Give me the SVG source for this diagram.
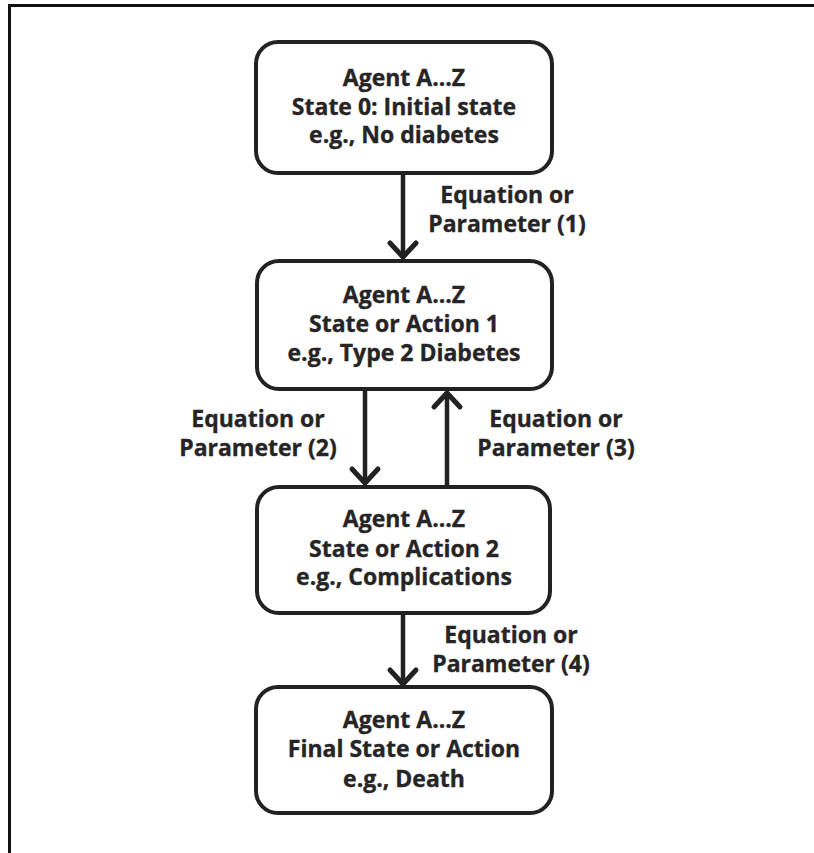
<svg xmlns="http://www.w3.org/2000/svg" width="814" height="853" viewBox="0 0 814 853">
  <style>
    .frame { fill: none; stroke: #111; stroke-width: 3; }
    .box { fill: #fff; stroke: #222; stroke-width: 4; }
    .wire { fill: none; stroke: #222; stroke-width: 4.5; }
    .head { fill: none; stroke: #222; stroke-width: 5; stroke-linecap: round; stroke-linejoin: miter; }
    text { font-family: "Open Sans", "Noto Sans", sans-serif; font-weight: bold; font-size: 23px; fill: #262425; stroke: #262425; stroke-width: 0.35; text-anchor: middle; }
  </style>
  <rect width="814" height="853" fill="#fff"/>

  <!-- open frame: top and left edges only -->
  <path class="frame" d="M9.5,853 V5.5 H814"/>

  <g id="connectors">
    <g id="edge-1">
      <line class="wire" x1="403" y1="174" x2="403" y2="258"/>
      <path class="head" d="M390,243 L403,257 L416,243"/>
      <text x="507" y="203">Equation or</text>
      <text x="507" y="232">Parameter (1)</text>
    </g>
    <g id="edge-2">
      <line class="wire" x1="365" y1="390" x2="365" y2="484"/>
      <path class="head" d="M352,469 L365,483 L378,469"/>
      <text x="258" y="427">Equation or</text>
      <text x="258" y="456">Parameter (2)</text>
    </g>
    <g id="edge-3">
      <line class="wire" x1="447" y1="486" x2="447" y2="392"/>
      <path class="head" d="M434,407 L447,393 L460,407"/>
      <text x="556" y="427">Equation or</text>
      <text x="556" y="456">Parameter (3)</text>
    </g>
    <g id="edge-4">
      <line class="wire" x1="403" y1="614" x2="403" y2="685"/>
      <path class="head" d="M390,670 L403,684 L416,670"/>
      <text x="511" y="643">Equation or</text>
      <text x="511" y="672">Parameter (4)</text>
    </g>
  </g>

  <g id="node-initial">
    <rect class="box" x="256" y="42" width="296" height="131" rx="22"/>
    <text x="404" y="86">Agent A...Z</text>
    <text x="404" y="115">State 0: Initial state</text>
    <text x="404" y="143">e.g., No diabetes</text>
  </g>

  <g id="node-action-1">
    <rect class="box" x="257" y="261" width="295" height="128" rx="22"/>
    <text x="404" y="303">Agent A...Z</text>
    <text x="404" y="332">State or Action 1</text>
    <text x="404" y="361">e.g., Type 2 Diabetes</text>
  </g>

  <g id="node-action-2">
    <rect class="box" x="257" y="487" width="293" height="126" rx="22"/>
    <text x="404" y="527">Agent A...Z</text>
    <text x="404" y="557">State or Action 2</text>
    <text x="404" y="585">e.g., Complications</text>
  </g>

  <g id="node-final">
    <rect class="box" x="256" y="687" width="296" height="126" rx="22"/>
    <text x="404" y="728">Agent A...Z</text>
    <text x="404" y="757">Final State or Action</text>
    <text x="404" y="787">e.g., Death</text>
  </g>
</svg>
